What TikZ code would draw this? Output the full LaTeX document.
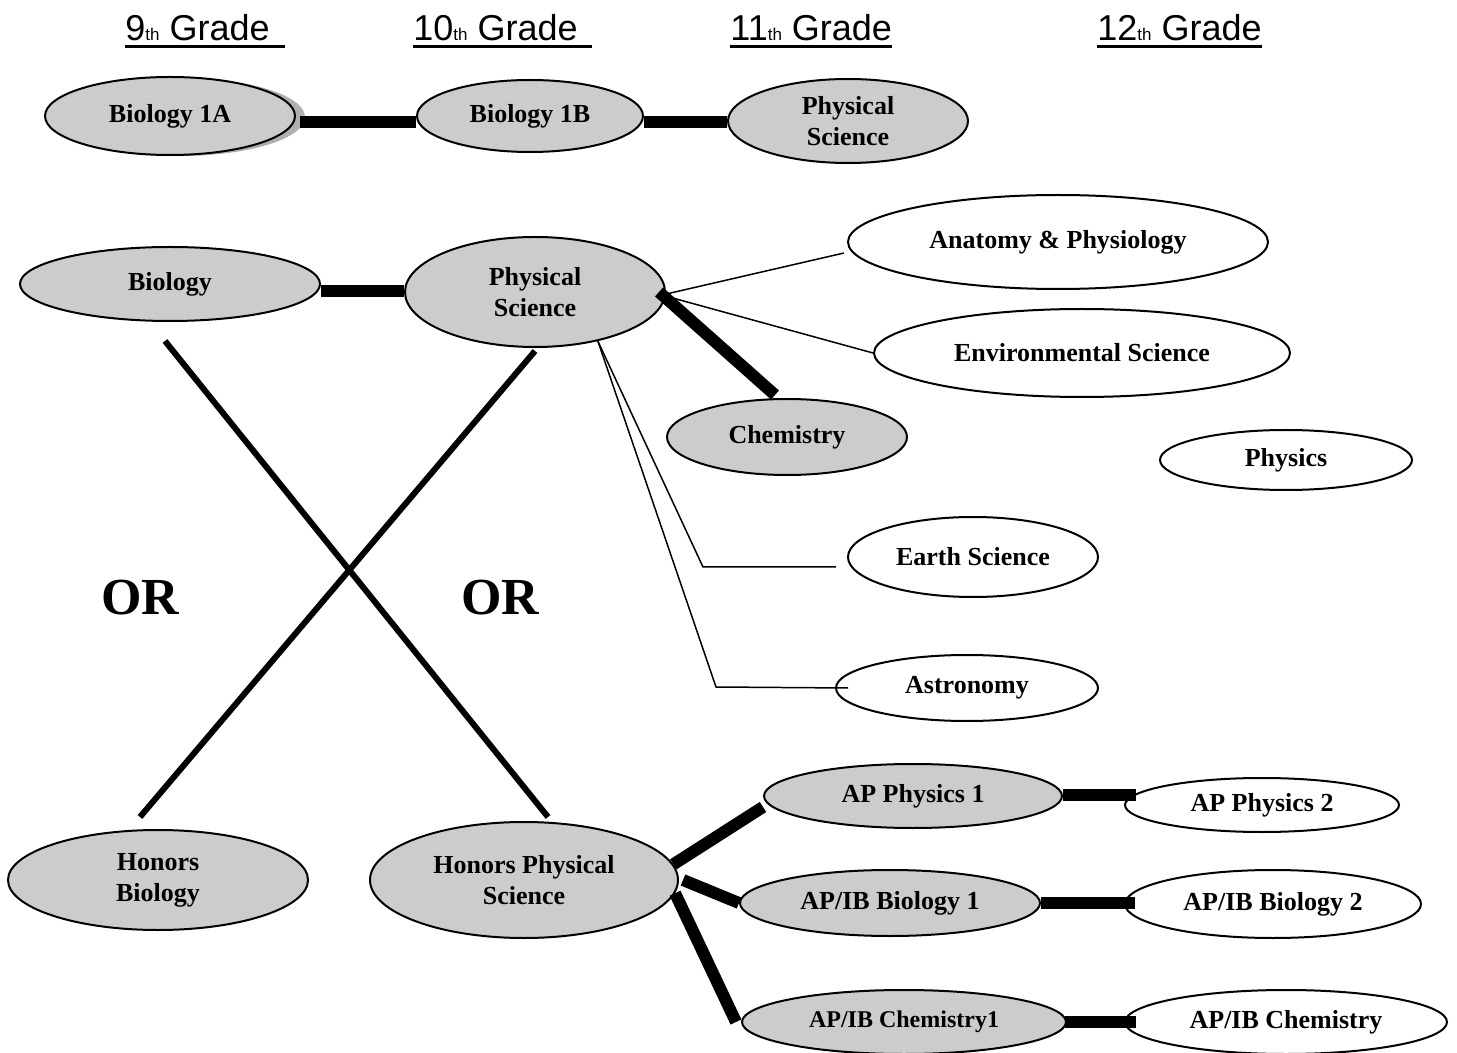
\documentclass[tikz,border=0pt]{standalone}
\usepackage{fontspec}
\setmainfont{Liberation Serif}
\setsansfont{Liberation Sans}
\usetikzlibrary{shapes.geometric, positioning, shadows}
\definecolor{coursegray}{RGB}{204,204,204}
\definecolor{shadowgray}{RGB}{176,176,176}
\newcommand{\gradeul}[1]{\leavevmode\setbox0\hbox{#1}\rlap{\rule[-3.5pt]{\wd0}{1.3pt}}\box0}
\newcommand{\gradetext}[2]{\gradeul{#1{\fontsize{8.5}{9}\selectfont th} Grade#2}}
\tikzset{course/.style={ellipse, draw, line width=1pt, fill=coursegray, inner sep=0pt, align=center, font=\fontsize{13}{15.5}\selectfont\bfseries}}
\tikzset{elective/.style={course, fill=white}}
\tikzset{grade/.style={anchor=base west, inner sep=0pt, font=\fontsize{18}{20}\selectfont\sffamily}}
\tikzset{orlabel/.style={font=\fontsize{26}{28}\selectfont\bfseries}}
\tikzset{bar/.style={line width=6pt}, cross/.style={line width=3pt}, branch/.style={line width=0.75pt}}

\begin{document}
\begin{tikzpicture}[x=0.5pt, y=-0.5pt]
\useasboundingbox (0,0) rectangle (1457,1053);
\node[grade] at (125,41)(g9) {\gradetext{9}{\hspace{7.5pt}}};
\node[grade] at (413,41)(g10) {\gradetext{10}{\hspace{7pt}}};
\node[grade] at (730,41)(g11) {\gradetext{11}{}};
\node[grade] at (1097,41)(g12) {\gradetext{12}{}};

\node[course, minimum width=125pt, minimum height=39pt, drop shadow={shadow xshift=5pt, shadow yshift=-0.5pt, fill=shadowgray, opacity=1}] at (170,116)(bio1a) {Biology 1A};
\node[course, minimum width=113pt, minimum height=36pt] at (530,116)(bio1b) {Biology 1B};
\node[course, minimum width=120pt, minimum height=42pt] at (848,121)(physa) {Physical\\Science};

\node[course, minimum width=150pt, minimum height=37pt] at (170,284)(biology) {Biology};
\node[course, minimum width=130pt, minimum height=55pt] at (535,292)(physb) {Physical\\Science};
\node[elective, minimum width=210pt, minimum height=47pt] at (1058,242)(anatomy) {Anatomy \& Physiology};
\node[elective, minimum width=208pt, minimum height=44pt] at (1082,353)(environ) {Environmental Science};
\node[course, minimum width=120pt, minimum height=38pt] at (787,437)(chem) {Chemistry};
\node[elective, minimum width=126pt, minimum height=30pt] at (1286,460)(physics) {Physics};
\node[elective, minimum width=125pt, minimum height=40pt] at (973,557)(earth) {Earth Science};
\node[elective, minimum width=131pt, minimum height=33pt] at (967,688)(astro) {Astronomy};

\node[orlabel] at (140,598)(orleft) {OR};
\node[orlabel] at (500,598)(orright) {OR};

\node[course, minimum width=150pt, minimum height=50pt] at (158,880)(honbio) {Honors\\Biology};
\node[course, minimum width=154pt, minimum height=58pt] at (524,880)(honphys) {Honors Physical\\Science};
\node[course, minimum width=149pt, minimum height=32pt] at (913,796)(apphys1) {AP Physics 1};
\node[elective, minimum width=137pt, minimum height=27pt] at (1262,805)(apphys2) {AP Physics 2};
\node[course, minimum width=150pt, minimum height=33pt] at (890,903)(apbio1) {AP/IB Biology 1};
\node[elective, minimum width=148pt, minimum height=34pt] at (1273,904)(apbio2) {AP/IB Biology 2};
\node[course, minimum width=162pt, minimum height=32pt, font=\fontsize{12}{14}\selectfont\bfseries] at (904,1022)(apchem1) {AP/IB Chemistry1};
\node[elective, minimum width=161pt, minimum height=32pt] at (1286,1022)(apchem2) {AP/IB Chemistry};

\draw[bar] ([xshift=2pt, yshift=-3pt]bio1a.east) -- ([yshift=-3pt]bio1b.west);
\draw[bar] ([yshift=-3pt]bio1b.east) -- ([yshift=-0.5pt]physa.west);
\draw[bar] ([yshift=-3.5pt]biology.east) -- ([yshift=0.5pt]physb.west);

\draw[cross] ([xshift=-2.5pt, yshift=-9.5pt]biology.south) -- ([xshift=12pt, yshift=2pt]honphys.north);
\draw[cross] ([yshift=-1.5pt]physb.south) -- ([xshift=-9pt, yshift=6pt]honbio.north);

\draw[branch] ([xshift=-2pt, yshift=-1.5pt]physb.east) -- ([xshift=-1.5pt, yshift=-5.5pt]anatomy.west);
\draw[branch] ([xshift=1.5pt, yshift=-2.5pt]physb.east) -- (environ.west);
\draw[bar] ([xshift=-3.5pt]physb.east) -- ([xshift=-6pt, yshift=1.5pt]chem.north);
\coordinate (earthbend) at (703,567);
\coordinate (astrobend) at (716,687);
\draw[branch] (physb.-38) -- (earthbend) -- ([xshift=-5.5pt, yshift=-5pt]earth.west);
\draw[branch] (physb.-38) -- (astrobend) -- ([xshift=6.5pt]astro.west);

\draw[bar] (honphys.6) -- ([yshift=-5.5pt]apphys1.west);
\draw[bar] ([xshift=2pt]honphys.east) -- (apbio1.west);
\draw[bar] (honphys.-5) -- ([xshift=-2.5pt]apchem1.west);
\draw[bar] ([yshift=0.5pt]apphys1.east) -- ([xshift=6pt, yshift=5pt]apphys2.west);
\draw[bar] (apbio1.east) -- ([xshift=5.5pt, yshift=0.5pt]apbio2.west);
\draw[bar] ([xshift=-1pt]apchem1.east) -- ([xshift=6pt]apchem2.west);
\end{tikzpicture}
\end{document}
